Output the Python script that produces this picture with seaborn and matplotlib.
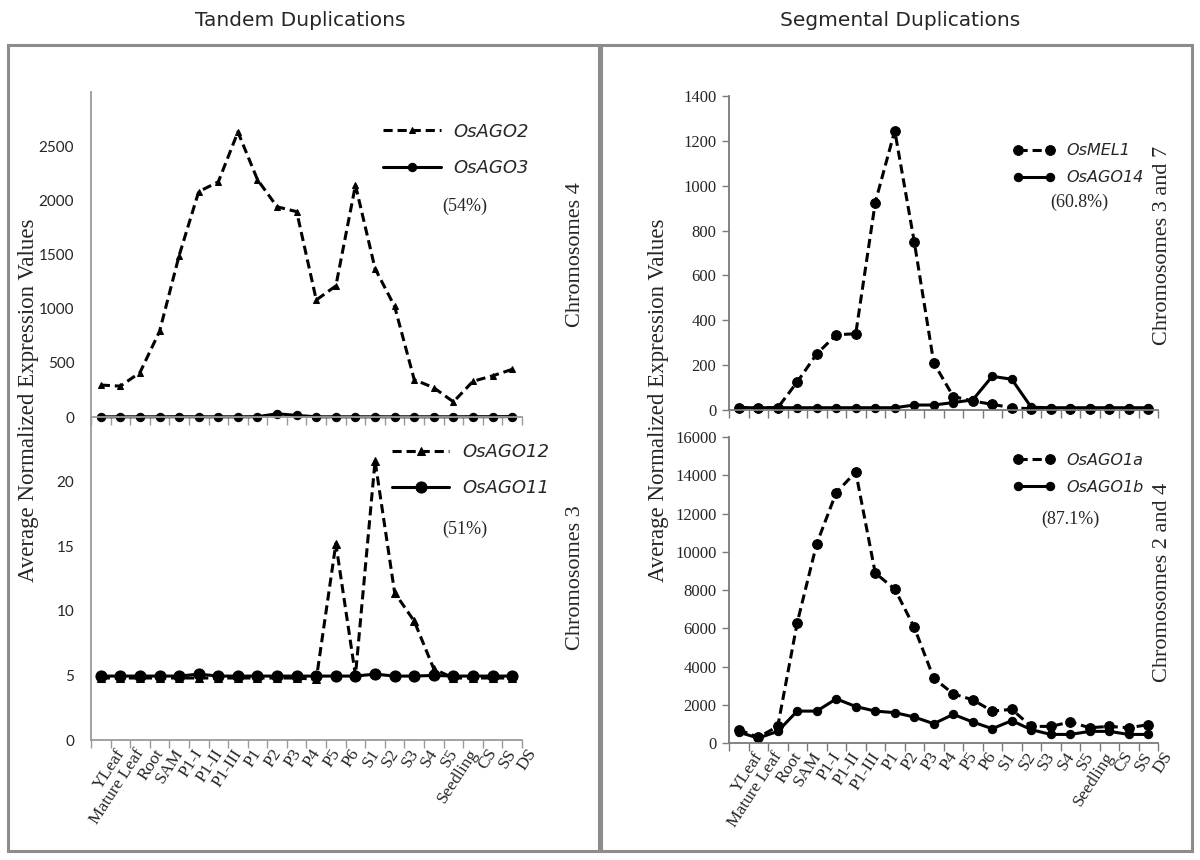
import numpy as np
import matplotlib
matplotlib.use("Agg")
import matplotlib.pyplot as plt
from matplotlib.patches import Rectangle
from matplotlib.transforms import ScaledTranslation
import seaborn as sns

# tissue / stage categories (shared x axis)
stages = ["YLeaf", "Mature Leaf", "Root", "SAM", "P1-I", "P1-II", "P1-III", "P1",
          "P2", "P3", "P4", "P5", "P6", "S1", "S2", "S3", "S4", "S5", "Seedling",
          "CS", "SS", "DS"]

# tandem duplications, chromosome 4
osago2 = [295, 285, 410, 790, 1490, 2080, 2170, 2630, 2190, 1940, 1895, 1080,
          1210, 2140, 1370, 1020, 345, 270, 140, 330, 380, 440]
osago3 = [2, 2, 2, 2, 3, 2, 2, 2, 3, 30, 15, 2, 2, 2, 2, 2, 2, 2, 2, 3, 3, 4]

# tandem duplications, chromosome 3
osago12 = [4.8, 4.8, 4.8, 4.8, 4.8, 4.8, 4.8, 4.8, 4.8, 4.8, 4.8, 4.7, 15.2,
           5.0, 21.6, 11.4, 9.2, 5.5, 4.8, 4.8, 4.8, 4.8]
osago11 = [4.95, 4.95, 4.95, 4.95, 4.95, 5.1, 4.95, 4.95, 4.95, 4.95, 4.95,
           4.95, 4.95, 4.95, 5.1, 4.95, 4.95, 5.0, 4.95, 4.95, 4.95, 4.95]

# segmental duplications, chromosomes 3 and 7
osmel1 = [10, 10, 10, 125, 250, 335, 340, 925, 1245, 750, 210, 60, 40, 25, 10,
          5, 5, 5, 5, 5, 5, 5]
osago14 = [10, 10, 10, 10, 10, 10, 10, 10, 10, 22, 22, 33, 45, 150, 137, 12,
           10, 10, 10, 10, 10, 10]

# segmental duplications, chromosomes 2 and 4
osago1a = [700, 300, 870, 6300, 10430, 13100, 14170, 8890, 8050, 6050, 3390,
           2570, 2260, 1670, 1760, 870, 870, 1100, 800, 870, 800, 960]
osago1b = [570, 260, 610, 1670, 1670, 2310, 1910, 1670, 1590, 1360, 1010,
           1500, 1100, 750, 1170, 700, 450, 450, 610, 610, 450, 450]

SERIF = "Liberation Serif"
SANS = "DejaVu Sans"
TICKSANS = "Lato"

sns.set_style("white")
plt.rcParams["font.family"] = [SERIF, "DejaVu Sans"]

fig = plt.figure(figsize=(12, 8.6), dpi=100)

# panel boxes
for x0 in (0.0067, 0.5008):
    fig.patches.append(Rectangle((x0, 0.0105), 0.4925, 0.937, fill=False,
                                 edgecolor="#8c8c8c", lw=2.2,
                                 transform=fig.transFigure))

ax_lt = fig.add_axes([0.0758, 0.5151, 0.3592, 0.378])
ax_lb = fig.add_axes([0.0758, 0.1395, 0.3592, 0.3756])
ax_rt = fig.add_axes([0.6075, 0.5233, 0.3575, 0.3651])
ax_rb = fig.add_axes([0.6075, 0.1360, 0.3575, 0.3558])

x = np.arange(len(stages))
DASH = (3.0, 1.6)


def draw(ax, vals, label, dashed, marker, ms):
    kw = dict(color="black", lw=2.2, marker=marker, ms=ms, mec="black",
              mfc="black", clip_on=False)
    if dashed:
        sns.lineplot(x=x, y=vals, ax=ax, label=label, linestyle=(0, DASH), **kw)
    else:
        sns.lineplot(x=x, y=vals, ax=ax, label=label, **kw)


draw(ax_lt, osago2, "OsAGO2", True, "^", 5)
draw(ax_lt, osago3, "OsAGO3", False, "o", 6)
draw(ax_lb, osago12, "OsAGO12", True, "^", 6)
draw(ax_lb, osago11, "OsAGO11", False, "o", 8)
draw(ax_rt, osmel1, "OsMEL1", True, "o", 7)
draw(ax_rt, osago14, "OsAGO14", False, "o", 6)
draw(ax_rb, osago1a, "OsAGO1a", True, "o", 7)
draw(ax_rb, osago1b, "OsAGO1b", False, "o", 6)

ylims = {ax_lt: (3000, [0, 500, 1000, 1500, 2000, 2500]),
         ax_lb: (25, [0, 5, 10, 15, 20]),
         ax_rt: (1400, list(range(0, 1401, 200))),
         ax_rb: (16000, list(range(0, 16001, 2000)))}

shift = ScaledTranslation(14 / 100, -1 / 100, fig.dpi_scale_trans)

for ax, (top, ticks) in ylims.items():
    right = ax in (ax_rt, ax_rb)
    spine_c = "#7a7a7a" if right else "#9a9a9a"
    ax.set_xlim(-0.5, len(stages) - 0.5)
    ax.set_ylim(0, top)
    ax.set_yticks(ticks, labels=[str(t) for t in ticks],
                  fontfamily=SERIF if right else TICKSANS,
                  fontsize=12 if right else 11)
    ax.set_xticks(x)
    ax.set_xticks(np.arange(len(stages) + 1) - 0.5, minor=True)
    ax.tick_params(axis="x", which="major", length=0)
    ax.tick_params(axis="x", which="minor", length=6, width=1,
                   color=spine_c, direction="out", bottom=True)
    ax.tick_params(axis="y", left=right, length=5, width=1, color=spine_c,
                   direction="out", pad=4 if right else 7)
    for s in ("top", "right"):
        ax.spines[s].set_visible(False)
    for s in ("left", "bottom"):
        ax.spines[s].set_color(spine_c)
        ax.spines[s].set_linewidth(1.3)
    ax.set_xlabel("")
    ax.set_ylabel("")
    ax.set_facecolor("none")
    if ax in (ax_lb, ax_rb):
        ax.set_xticklabels(stages, rotation=57, ha="right",
                           rotation_mode="anchor", fontsize=12.5,
                           fontfamily=SERIF)
        for lab in ax.get_xticklabels():
            lab.set_transform(lab.get_transform() + shift)
    else:
        ax.set_xticklabels([])

# legends and similarity percentages
leg_pos = {ax_lt: (0.64, 0.955, 1, 13, 1.0, 3.2),
           ax_lb: (0.66, 0.97, 1, 13, 1.0, 3.2),
           ax_rt: (0.63, 0.895, 2, 11.5, 0.75, 2.6),
           ax_rb: (0.63, 0.995, 2, 11.5, 0.75, 2.6)}
for ax, (lx, ly, npts, fs, sp, hl) in leg_pos.items():
    ax.legend(loc="upper left", bbox_to_anchor=(lx, ly), frameon=False,
              handlelength=hl, labelspacing=sp, numpoints=npts,
              handletextpad=0.7,
              prop={"family": SANS, "style": "italic", "size": fs})

pct = [(ax_lt, 0.868, 0.647, "(54%)"), (ax_lb, 0.868, 0.653, "(51%)"),
       (ax_rt, 0.816, 0.66, "(60.8%)"), (ax_rb, 0.795, 0.732, "(87.1%)")]
for ax, px, py, t in pct:
    ax.text(px, py, t, transform=ax.transAxes, ha="center", va="center",
            fontsize=13, fontfamily=SERIF)

# chromosome labels
for fx, fy, t in [(0.48, 0.7035, "Chromosomes 4"), (0.48, 0.328, "Chromosomes 3"),
                  (0.969, 0.715, "Chromosomes 3 and 7"),
                  (0.969, 0.323, "Chromosomes 2 and 4")]:
    fig.text(fx, fy, t, rotation=90, ha="center", va="center", fontsize=16,
             fontfamily=SERIF)

# shared y labels
for fx in (0.024, 0.549):
    fig.text(fx, 0.535, "Average Normalized Expression Values", rotation=90,
             ha="center", va="center", fontsize=16.5, fontfamily=SERIF)

fig.text(0.25, 0.976, "Tandem Duplications", ha="center", va="center",
         fontsize=14.5, fontfamily=SANS)
fig.text(0.75, 0.976, "Segmental Duplications", ha="center", va="center",
         fontsize=14.5, fontfamily=SANS)

fig.savefig("out.png", dpi=100, facecolor="white")
